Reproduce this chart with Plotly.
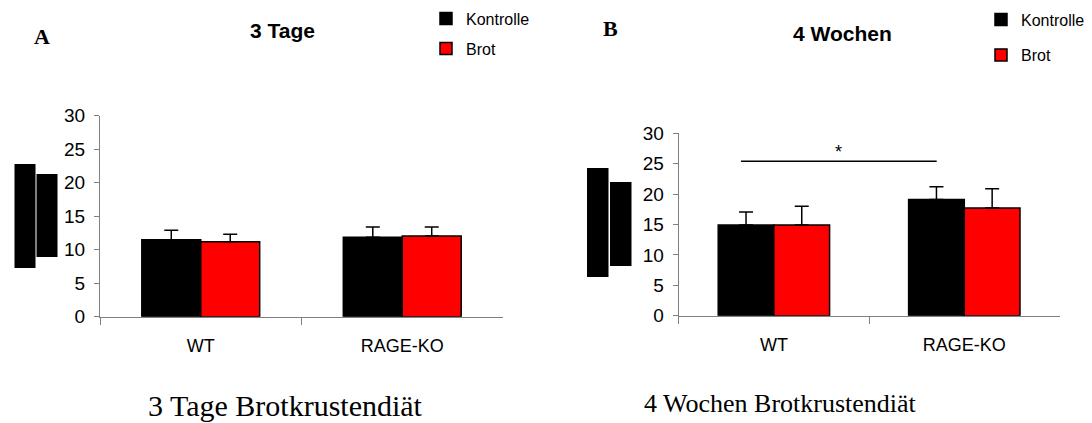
import plotly.graph_objects as go

W, H = 1092, 423

categories = ["WT", "RAGE-KO"]
series_names = ["Kontrolle", "Brot"]
series_colors = ["#000000", "#ff0000"]

tage3_kontrolle = [11.5, 11.85]
tage3_kontrolle_err = [1.4, 1.55]
tage3_brot = [11.2, 12.05]
tage3_brot_err = [1.1, 1.35]

wochen4_kontrolle = [14.9, 19.1]
wochen4_kontrolle_err = [2.15, 2.1]
wochen4_brot = [14.9, 17.7]
wochen4_brot_err = [3.1, 3.2]

y_ticks = [0, 5, 10, 15, 20, 25, 30]
panel_titles = ["3 Tage", "4 Wochen"]
panel_letters = ["A", "B"]
captions = ["3 Tage Brotkrustendiät", "4 Wochen Brotkrustendiät"]

# significance bracket (panel B): x-span in category units, y in data units
sig_x = [-0.173, 0.855]
sig_y = 25.4
sig_label = "*"


def px(x):
    return x / W


def py(y):
    return 1 - y / H


fig = go.Figure()

panels = [
    ("x", "y", ["legend", "legend2"], tage3_kontrolle, tage3_kontrolle_err, tage3_brot, tage3_brot_err),
    ("x2", "y2", ["legend3", "legend4"], wochen4_kontrolle, wochen4_kontrolle_err, wochen4_brot, wochen4_brot_err),
]
for xa, ya, lgs, k, ke, b, be in panels:
    for lg, name, vals, errs, col in [
        (lgs[0], series_names[0], k, ke, series_colors[0]),
        (lgs[1], series_names[1], b, be, series_colors[1]),
    ]:
        fig.add_trace(go.Bar(
            x=categories, y=vals, name=name, xaxis=xa, yaxis=ya, legend=lg,
            marker=dict(color=col, line=dict(color="black", width=1.5)),
            error_y=dict(type="data", array=errs, arrayminus=[0] * len(errs),
                         symmetric=False, color="black", thickness=1.5, width=7),
        ))

axis_line = "#808080"
xcommon = dict(showline=True, linecolor=axis_line, linewidth=1, ticks="outside",
               tickson="boundaries", ticklen=7, tickcolor=axis_line, showgrid=False,
               zeroline=False, ticklabelstandoff=13,
               tickfont=dict(family="Liberation Sans Narrow, Arial Narrow, Liberation Sans, Arial",
                             size=18, color="black"))
ycommon = dict(showline=True, linecolor=axis_line, linewidth=1, ticks="outside",
               ticklen=5, tickcolor=axis_line, showgrid=False, zeroline=False,
               range=[0, 30], tickvals=y_ticks, ticklabelstandoff=5,
               tickfont=dict(family="Liberation Sans, Arial", size=19, color="black"))

legend_font = dict(family="Liberation Sans, Arial", size=16, color="black")


def legend_at(x, y):
    return dict(x=px(x), y=py(y), xanchor="left", yanchor="middle", font=legend_font,
                itemwidth=30, bgcolor="rgba(0,0,0,0)", borderwidth=0)


fig.update_layout(
    width=W, height=H, margin=dict(l=0, r=0, t=0, b=0, pad=0, autoexpand=False),
    paper_bgcolor="white", plot_bgcolor="white",
    barmode="group", bargap=0.415, bargroupgap=0,
    xaxis=dict(domain=[px(100), px(503)], anchor="y", **xcommon),
    yaxis=dict(domain=[py(316.7), py(115.7)], anchor="x", **ycommon),
    xaxis2=dict(domain=[px(678.7), px(1059.5)], anchor="y2", **xcommon),
    yaxis2=dict(domain=[py(315.7), py(133.3)], anchor="x2", **ycommon),
    legend=legend_at(426, 18.5),
    legend2=legend_at(426, 48.5),
    legend3=legend_at(981, 19.5),
    legend4=legend_at(981, 55),
    showlegend=True,
)

# significance line and asterisk
fig.add_shape(type="line", xref="x2", yref="y2", x0=sig_x[0], x1=sig_x[1],
              y0=sig_y, y1=sig_y, line=dict(color="black", width=1.5))
fig.add_annotation(xref="x2", yref="y2", x=(sig_x[0] + sig_x[1]) / 2, y=sig_y + 1.6,
                   text=sig_label, showarrow=False,
                   font=dict(family="Liberation Sans, Arial", size=18, color="black"))

# redacted y-axis titles (black blocks)
blocks = [
    (14.5, 35.5, 164, 268), (36.5, 57.5, 174, 257),
    (587, 608.5, 168, 277), (610, 631.5, 182, 266),
]
for x0, x1, y0, y1 in blocks:
    fig.add_shape(type="rect", xref="paper", yref="paper",
                  x0=px(x0), x1=px(x1), y0=py(y1), y1=py(y0),
                  fillcolor="black", line=dict(width=0))

# panel titles
for txt, cx, cy in [(panel_titles[0], 282, 31), (panel_titles[1], 842, 33)]:
    fig.add_annotation(xref="paper", yref="paper", x=px(cx), y=py(cy), text="<b>" + txt + "</b>",
                       showarrow=False, xanchor="center", yanchor="middle",
                       font=dict(family="Liberation Sans, Arial", size=21, color="black"))
for txt, cx, cy in [(panel_letters[0], 42, 36), (panel_letters[1], 610, 29)]:
    fig.add_annotation(xref="paper", yref="paper", x=px(cx), y=py(cy), text="<b>" + txt + "</b>",
                       showarrow=False, xanchor="center", yanchor="middle",
                       font=dict(family="Liberation Serif, Times New Roman", size=22, color="black"))
for txt, cx, cy, fs in [(captions[0], 285, 405, 30), (captions[1], 780, 403, 26)]:
    fig.add_annotation(xref="paper", yref="paper", x=px(cx), y=py(cy), text=txt,
                       showarrow=False, xanchor="center", yanchor="middle",
                       font=dict(family="Liberation Serif, Times New Roman", size=fs, color="black"))

fig.write_html("out.html")
